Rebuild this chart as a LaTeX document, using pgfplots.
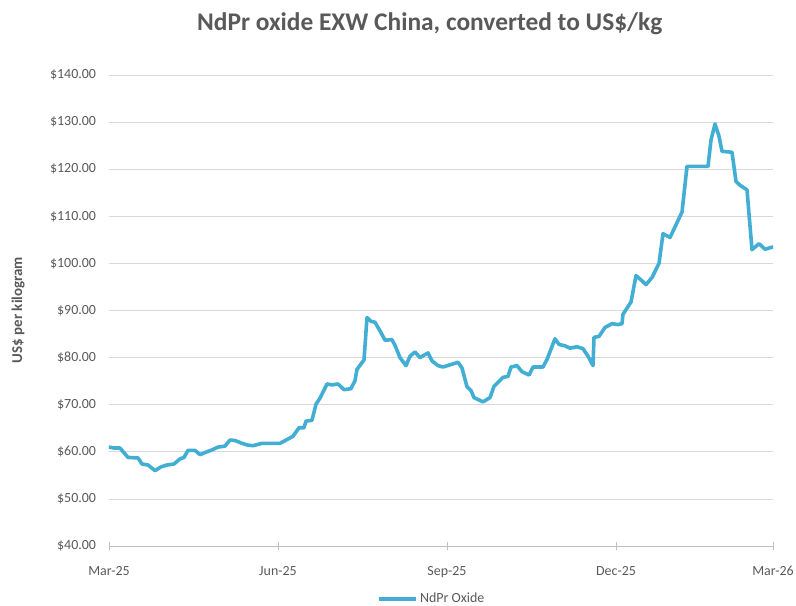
\documentclass[border=0pt]{standalone}
\usepackage{fontspec}
\setmainfont{Carlito}
\usepackage{pgfplots}
\pgfplotsset{compat=1.18}
\definecolor{linec}{RGB}{66,174,212}
\definecolor{txt}{RGB}{89,89,89}
\definecolor{gridc}{RGB}{217,217,217}
\definecolor{axc}{RGB}{191,191,191}
\begin{document}
\begin{tikzpicture}
\path[use as bounding box] (-109bp,-60bp) rectangle (687bp,546bp);
\begin{axis}[
  at={(0,0)}, anchor=south west,
  scale only axis, width=664bp, height=471bp,
  xmin=0, xmax=664, ymin=40, ymax=140,
  xtick={0,169,338,507,664},
  xticklabels={Mar-25,Jun-25,Sep-25,Dec-25,Mar-26},
  ytick={40,50,...,140},
  /pgf/number format/assume math mode=true,
  yticklabel={\$\pgfmathprintnumber[fixed,fixed zerofill,precision=2]{\tick}},
  axis x line*=bottom, axis y line*=left,
  x axis line style={-, draw=axc, line width=0.75bp},
  y axis line style={draw=none},
  ymajorgrids, grid style={draw=gridc, line width=0.75bp},
  ytick style={draw=none},
  xtick style={draw=axc, line width=0.75bp},
  tick align=center, major tick length=7bp,
  tick label style={font=\fontsize{14}{16}\selectfont, text=txt},
  xticklabel style={yshift=-13bp},
  yticklabel style={xshift=-6bp},
  ylabel={US\$ per kilogram},
  ylabel style={at={(axis description cs:-0.137,0.501)}, anchor=center, rotate=0, font=\bfseries\fontsize{15}{17}\selectfont, text=txt},
  title={NdPr oxide EXW China, converted to US\$/kg},
  title style={at={(axis description cs:0.483,1.0955)}, anchor=center, font=\bfseries\fontsize{25.5}{29}\selectfont, text=txt},
  legend style={at={(axis description cs:0.486,-0.112)}, anchor=center, draw=none, fill=none, font=\fontsize{14}{16}\selectfont, text=txt, legend cell align=left, inner xsep=0pt, inner ysep=0pt},
  legend image code/.code={\draw[#1, line width=4bp, line cap=butt] (0cm,0cm) -- (37bp,0cm);},
]
\addplot[color=linec, line width=3.6bp, line join=round, line cap=round] coordinates {
(0,61.0) (5,60.8) (11,60.8) (19,58.8) (29,58.7) (33,57.4) (39,57.2) (46,56.0)
(52,56.8) (58,57.2) (65,57.4) (71,58.5) (75,58.8) (79,60.3) (86,60.3) (91,59.4)
(98,60.0) (103,60.4) (109,61.0) (116,61.2) (121,62.5) (126,62.4) (133,61.8) (139,61.4)
(144,61.3) (153,61.8) (171,61.8) (178,62.6) (184,63.3) (190,65.1) (195,65.1) (197,66.5)
(203,66.7) (207,70.1) (211,71.4) (218,74.4) (223,74.2) (229,74.4) (235,73.2) (242,73.4)
(246,75.1) (248,77.5) (255,79.5) (258,88.5) (262,87.7) (266,87.5) (272,85.3) (276,83.7)
(283,83.8) (286,82.6) (291,80.0) (297,78.3) (301,80.3) (306,81.2) (311,80.0) (319,81.0)
(323,79.3) (329,78.3) (334,78.0) (349,79.0) (353,77.8) (358,73.8) (362,73.0) (365,71.5)
(374,70.6) (381,71.5) (385,73.9) (394,75.8) (399,76.0) (402,78.0) (408,78.3) (413,77.0)
(420,76.3) (424,78.0) (434,78.0) (438,79.6) (446,84.0) (450,82.8) (456,82.5) (461,82.0)
(468,82.3) (474,81.9) (479,80.3) (484,78.3) (485,84.3) (490,84.5) (496,86.4) (503,87.2)
(509,87.0) (513,87.2) (514,89.2) (522,91.8) (527,97.4) (533,96.3) (537,95.5) (543,97.0)
(550,100.0) (554,106.3) (561,105.5) (567,108.2) (573,110.9) (578,120.6) (599,120.6) (602,126.2)
(606,129.6) (610,127.0) (613,123.8) (623,123.6) (627,117.4) (631,116.6) (638,115.6) (643,102.9)
(650,104.2) (656,103.0) (664,103.5)
};
\addlegendentry{NdPr Oxide}
\end{axis}
\end{tikzpicture}
\end{document}
